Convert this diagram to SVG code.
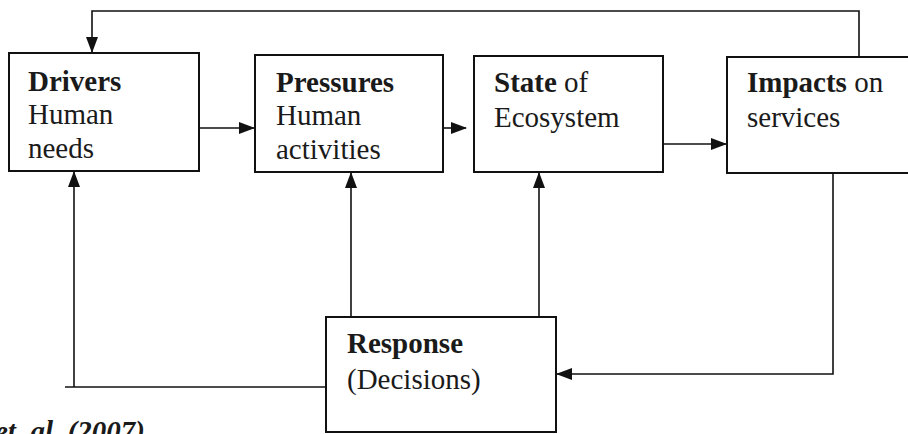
<svg xmlns="http://www.w3.org/2000/svg" width="908" height="434" viewBox="0 0 908 434">
<style>
.box{fill:#fff;stroke:#111;stroke-width:2}
.ln{fill:none;stroke:#111;stroke-width:1.6}
text{font-family:"Liberation Serif","Times New Roman",serif;font-size:29px;fill:#1a1a1a}
.b{font-weight:bold}
</style>
<defs>
<marker id="ah" markerWidth="16" markerHeight="12" refX="15" refY="6" orient="auto" markerUnits="userSpaceOnUse">
<path d="M0,0 L16,6 L0,12 Z" fill="#111"/>
</marker>
</defs>
<rect width="908" height="434" fill="#fff"/>
<g id="connectors">
<path class="ln" d="M859,57 V11 H92 V52" marker-end="url(#ah)"/>
<path class="ln" d="M199,128 H254" marker-end="url(#ah)"/>
<path class="ln" d="M443,128 H466" marker-end="url(#ah)"/>
<path class="ln" d="M663,144 H726" marker-end="url(#ah)"/>
<path class="ln" d="M65,387 H326"/>
<path class="ln" d="M74,387 V172" marker-end="url(#ah)"/>
<path class="ln" d="M351,317 V173" marker-end="url(#ah)"/>
<path class="ln" d="M539,317 V173" marker-end="url(#ah)"/>
<path class="ln" d="M833,173 V374 H557" marker-end="url(#ah)"/>
</g>
<g id="drivers">
<rect class="box" x="9" y="53" width="190" height="118"/>
<text x="28" y="91"><tspan class="b">Drivers</tspan></text>
<text x="28" y="124">Human</text>
<text x="28" y="158">needs</text>
</g>
<g id="pressures">
<rect class="box" x="255" y="55" width="188" height="117"/>
<text x="276" y="92"><tspan class="b">Pressures</tspan></text>
<text x="276" y="125">Human</text>
<text x="276" y="159">activities</text>
</g>
<g id="state">
<rect class="box" x="474" y="56" width="189" height="116"/>
<text x="494" y="92"><tspan class="b">State</tspan> of</text>
<text x="494" y="127">Ecosystem</text>
</g>
<g id="impacts">
<rect class="box" x="727" y="57" width="190" height="116"/>
<text x="747" y="92"><tspan class="b">Impacts</tspan> on</text>
<text x="747" y="127">services</text>
</g>
<g id="response">
<rect class="box" x="326" y="317" width="230" height="115"/>
<text x="347" y="353"><tspan class="b">Response</tspan></text>
<text x="347" y="389">(Decisions)</text>
</g>
<text x="-5" y="441" class="b" font-style="italic">et. al. (2007)</text>
</svg>
